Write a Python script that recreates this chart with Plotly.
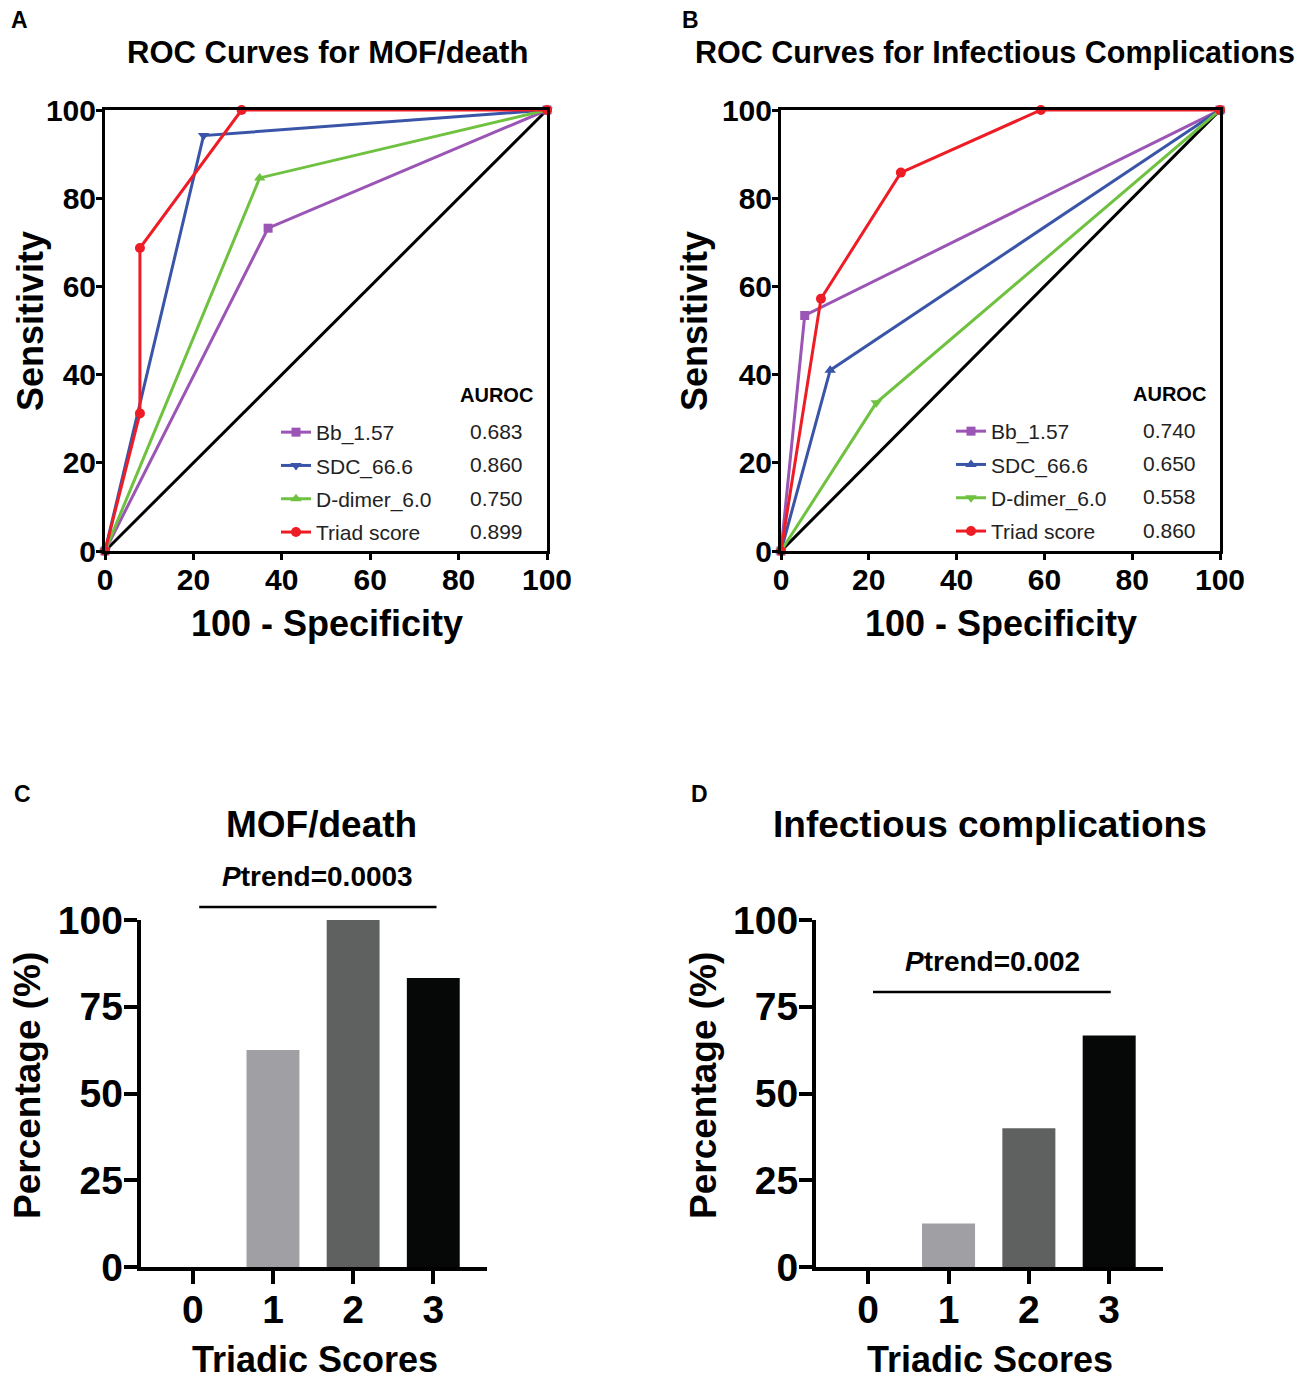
import plotly.graph_objects as go

W, H = 1306, 1381
OFF = 8  # page margin of the html body
FONT = "Arial, 'Liberation Sans', sans-serif"

# ===== ROC data, panel A (MOF/death) =====
bb_mof_x = [0, 36.9, 100]
bb_mof_y = [0, 73.2, 100]
sdc_mof_x = [0, 22.3, 100]
sdc_mof_y = [0, 94.2, 100]
dd_mof_x = [0, 35.0, 100]
dd_mof_y = [0, 84.6, 100]
triad_mof_x = [0, 7.9, 7.9, 30.9, 100]
triad_mof_y = [0, 31.2, 68.7, 100, 100]

# ===== ROC data, panel B (infectious complications) =====
bb_inf_x = [0, 5.4, 100]
bb_inf_y = [0, 53.4, 100]
sdc_inf_x = [0, 11.2, 100]
sdc_inf_y = [0, 41.0, 100]
dd_inf_x = [0, 21.7, 100]
dd_inf_y = [0, 33.6, 100]
triad_inf_x = [0, 9.1, 27.3, 59.2, 100]
triad_inf_y = [0, 57.2, 85.8, 100, 100]

ref_x = [0, 100]
ref_y = [0, 100]

marker_names = ["Bb_1.57", "SDC_66.6", "D-dimer_6.0", "Triad score"]
auroc_mof = ["0.683", "0.860", "0.750", "0.899"]
auroc_inf = ["0.740", "0.650", "0.558", "0.860"]

# ===== bar data =====
scores = [0, 1, 2, 3]
mof_pct = [0, 62.5, 100, 83.3]
inf_pct = [0, 12.5, 40, 66.7]
bar_colors = ["#a0a0a4", "#a0a0a4", "#5f6060", "#060808"]

ptrend_mof = "<i>P</i>trend=0.0003"
ptrend_inf = "<i>P</i>trend=0.002"

colors = ["#9b55b5", "#3a55a8", "#6fc140", "#ee1c25"]


def fx(x):
    return (x - OFF) / W


def fy(y):
    return 1 - (y - OFF) / H


fig = go.Figure()

# ----- ROC panels -----
roc_sets = [
    ("x", "y", "legend",
     [(bb_mof_x, bb_mof_y), (sdc_mof_x, sdc_mof_y), (dd_mof_x, dd_mof_y), (triad_mof_x, triad_mof_y)],
     ["square", "triangle-down", "triangle-up", "circle"]),
    ("x2", "y2", "legend2",
     [(bb_inf_x, bb_inf_y), (sdc_inf_x, sdc_inf_y), (dd_inf_x, dd_inf_y), (triad_inf_x, triad_inf_y)],
     ["square", "triangle-up", "triangle-down", "circle"]),
]
for xa, ya, leg, series, symbols in roc_sets:
    fig.add_trace(go.Scatter(x=ref_x, y=ref_y, xaxis=xa, yaxis=ya, mode="lines",
                             line=dict(color="black", width=3), showlegend=False,
                             cliponaxis=False, hoverinfo="skip"))
    for i, (sx, sy) in enumerate(series):
        fig.add_trace(go.Scatter(
            x=sx, y=sy, xaxis=xa, yaxis=ya, mode="lines+markers", name=marker_names[i],
            legend=leg, legendgroup=leg + str(i), cliponaxis=False,
            line=dict(color=colors[i], width=3),
            marker=dict(symbol=symbols[i], size=10 if symbols[i] != "square" else 9, color=colors[i]),
        ))

# ----- bar panels -----
for xa, ya, vals in [("x3", "y3", mof_pct), ("x4", "y4", inf_pct)]:
    fig.add_trace(go.Bar(x=scores, y=vals, xaxis=xa, yaxis=ya, width=0.66,
                         marker=dict(color=bar_colors, line=dict(width=0)),
                         showlegend=False))

roc_ax = dict(range=[0, 100], tickvals=[0, 20, 40, 60, 80, 100], showgrid=False, zeroline=False,
              showline=True, linecolor="black", linewidth=3, mirror=True, automargin=False,
              ticks="outside", ticklen=6, tickwidth=3, tickcolor="black", ticklabelstandoff=-6,
              tickfont=dict(family=FONT, size=30, color="black", weight="bold"))
bar_x = dict(range=[-0.65, 3.67], tickvals=scores, showgrid=False, zeroline=False,
             showline=True, linecolor="black", linewidth=4, automargin=False,
             ticks="outside", ticklen=13, tickwidth=4, tickcolor="black", ticklabelstandoff=-8,
             tickfont=dict(family=FONT, size=39, color="black", weight="bold"))
bar_y = dict(range=[0, 100], tickvals=[0, 25, 50, 75, 100], showgrid=False, zeroline=False,
             showline=True, linecolor="black", linewidth=4, automargin=False,
             ticks="outside", ticklen=13, tickwidth=4, tickcolor="black", ticklabelstandoff=-7,
             tickfont=dict(family=FONT, size=39, color="black", weight="bold"))

legend_style = dict(xanchor="left", yanchor="top", bgcolor="rgba(0,0,0,0)",
                    font=dict(family=FONT, size=21, color="#222"), traceorder="grouped",
                    tracegroupgap=3, itemwidth=30)

fig.update_layout(
    width=W, height=H, margin=dict(l=0, r=0, t=0, b=0, autoexpand=False),
    paper_bgcolor="white", plot_bgcolor="white",
    font=dict(family=FONT, color="black"),
    xaxis=dict(roc_ax, domain=[fx(105), fx(547)], anchor="y"),
    yaxis=dict(roc_ax, domain=[fy(551), fy(110)], anchor="x"),
    xaxis2=dict(roc_ax, domain=[fx(781), fx(1220)], anchor="y2"),
    yaxis2=dict(roc_ax, domain=[fy(551), fy(110)], anchor="x2"),
    xaxis3=dict(bar_x, domain=[fx(140.7), fx(487)], anchor="y3"),
    yaxis3=dict(bar_y, domain=[fy(1267), fy(920)], anchor="x3"),
    xaxis4=dict(bar_x, domain=[fx(816), fx(1163)], anchor="y4"),
    yaxis4=dict(bar_y, domain=[fy(1267), fy(920)], anchor="x4"),
    legend=dict(legend_style, x=fx(276), y=fy(412)),
    legend2=dict(legend_style, x=fx(951), y=fy(411)),
)

# ----- text -----
ann = []


def text(x, y, s, size, bold=True, angle=0, color="black"):
    ann.append(dict(x=fx(x), y=fy(y), xref="paper", yref="paper", text=s, showarrow=False,
                    textangle=angle, xanchor="center", yanchor="middle",
                    font=dict(family=FONT, size=size, color=color, weight="bold" if bold else "normal")))


text(19, 20, "A", 23)
text(690, 20, "B", 23)
text(22, 794, "C", 23)
text(699, 794, "D", 23)

text(327, 52, "ROC Curves for MOF/death", 31)
text(995, 52, "ROC Curves for Infectious Complications", 30.5)
text(30, 321, "Sensitivity", 36, angle=-90)
text(694, 321, "Sensitivity", 36, angle=-90)
text(327, 623, "100 - Specificity", 36)
text(1001, 623, "100 - Specificity", 36)

text(496, 395, "AUROC", 20)
text(1169, 394, "AUROC", 20)
for i in range(4):
    text(496, 431 + i * 33.5, auroc_mof[i], 21, bold=False, color="#222")
    text(1169, 430 + i * 33.5, auroc_inf[i], 21, bold=False, color="#222")

text(321, 824, "MOF/death", 37)
text(990, 824, "Infectious complications", 37)
text(27, 1086, "Percentage (%)", 37, angle=-90)
text(703, 1086, "Percentage (%)", 37, angle=-90)
text(315, 1359, "Triadic Scores", 36)
text(990, 1359, "Triadic Scores", 36)

# p-trend labels and their bars
text(317, 876, ptrend_mof, 28)
text(992, 961, ptrend_inf, 28)
fig.update_layout(annotations=ann)

fig.add_shape(type="line", xref="x3", yref="paper", x0=0.08, x1=3.04, y0=fy(907), y1=fy(907),
              line=dict(color="black", width=2.5))
fig.add_shape(type="line", xref="x4", yref="paper", x0=0.06, x1=3.02, y0=fy(992), y1=fy(992),
              line=dict(color="black", width=2.5))

fig.write_html("out.html")
